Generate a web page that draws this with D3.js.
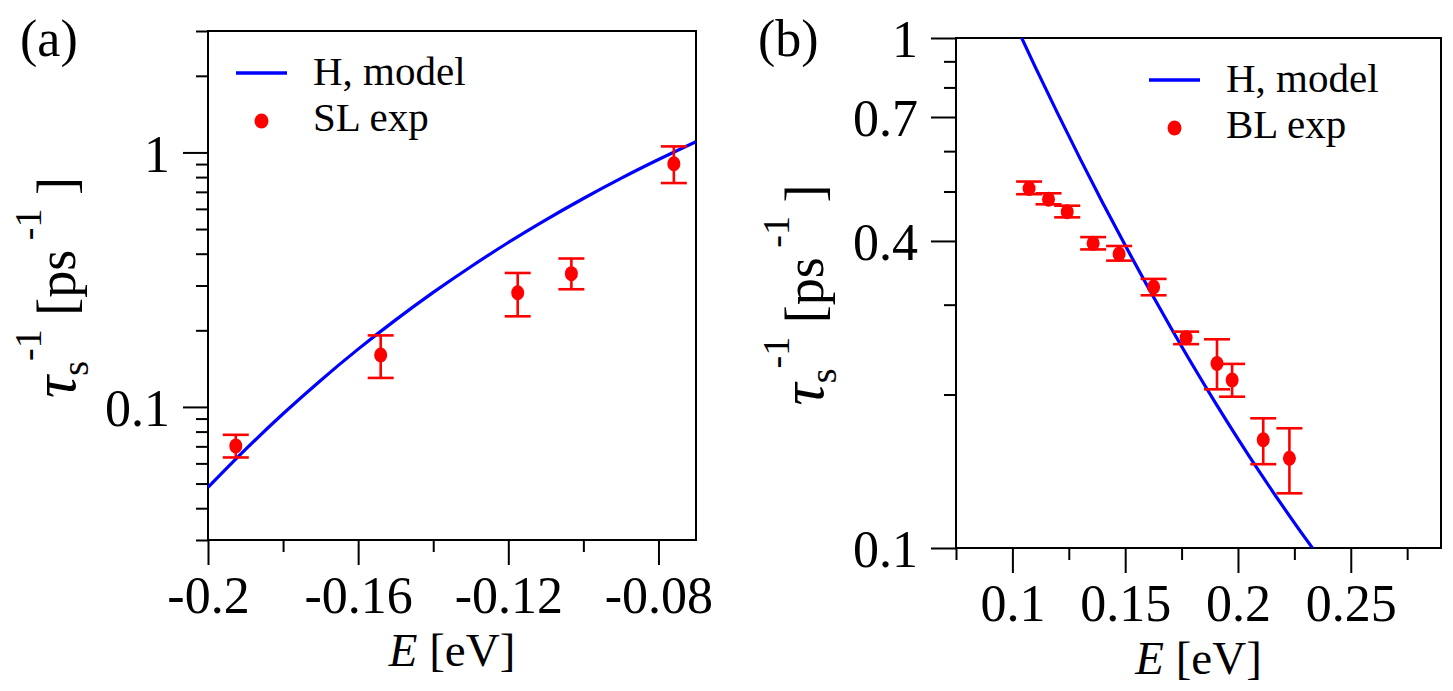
<!DOCTYPE html>
<html>
<head>
<meta charset="utf-8">
<script src="https://cdn.jsdelivr.net/npm/d3@7/dist/d3.min.js"></script>
<style>
  body { margin: 0; background: #fff; }
  svg { display: block; }
  svg text { font-family: 'Liberation Serif', 'DejaVu Serif', serif; }
</style>
</head>
<body>
<svg id="chart" width="1453" height="691"></svg>
<script>
// panel (a): SL
const aModelE = [-0.2, -0.19, -0.18, -0.17, -0.16, -0.15, -0.14, -0.13, -0.12, -0.11, -0.1, -0.09, -0.08, -0.07];
const aModelRate = [0.0483, 0.0681, 0.0940, 0.1271, 0.1687, 0.2198, 0.2818, 0.3556, 0.4426, 0.5433, 0.6592, 0.7907, 0.9376, 1.102];
const aExpE = [-0.1926, -0.154, -0.1175, -0.1032, -0.0759];
const aExpRate = [0.0703, 0.160, 0.281, 0.334, 0.903];
const aExpLow = [0.0633, 0.130, 0.227, 0.290, 0.758];
const aExpHigh = [0.0777, 0.191, 0.336, 0.383, 1.056];
const aXMajor = [-0.2, -0.16, -0.12, -0.08];
const aXMinor = [-0.18, -0.14, -0.1];
const aYMajor = [0.1, 1];
const aYMinor = [0.03, 0.04, 0.05, 0.06, 0.07, 0.08, 0.09, 0.2, 0.3, 0.4, 0.5, 0.6, 0.7, 0.8, 0.9, 2, 3];

// panel (b): BL
const bModelE = [0.1, 0.11, 0.12, 0.13, 0.14, 0.15, 0.16, 0.17, 0.18, 0.19, 0.2, 0.21, 0.22, 0.23, 0.235];
const bModelRate = [1.094, 0.880, 0.7123, 0.580, 0.4754, 0.3921, 0.3252, 0.2715, 0.2279, 0.1926, 0.1637, 0.1400, 0.1205, 0.1043, 0.0973];
const bExpE = [0.1074, 0.116, 0.1243, 0.1358, 0.1473, 0.1626, 0.177, 0.1907, 0.1974, 0.2112, 0.2228];
const bExpRate = [0.507, 0.483, 0.4565, 0.3957, 0.377, 0.325, 0.2585, 0.230, 0.2135, 0.163, 0.150];
const bExpLow = [0.494, 0.472, 0.445, 0.385, 0.366, 0.313, 0.251, 0.2047, 0.198, 0.146, 0.128];
const bExpHigh = [0.523, 0.496, 0.469, 0.407, 0.391, 0.337, 0.2656, 0.2566, 0.2296, 0.1796, 0.1717];
const bXMajor = [0.1, 0.15, 0.2, 0.25];
const bXMinor = [0.075, 0.125, 0.175, 0.225, 0.275];
const bYMajor = [0.1, 0.4, 0.7, 1];
const bYMinor = [0.2, 0.3, 0.5, 0.6, 0.8, 0.9];

const FONT = "'Liberation Serif', 'DejaVu Serif', serif";
const svg = d3.select("#chart");
const fmt = v => String(v).replace("\u2212", "-");

function drawPanel(p) {
  const x = d3.scaleLinear().domain(p.xDomain).range([p.left, p.right]);
  const y = d3.scaleLog().domain(p.yDomain).range([p.bottom, p.top]);
  const g = svg.append("g").style("font-family", FONT);

  g.append("clipPath").attr("id", p.id + "clip")
    .append("rect")
    .attr("x", p.left).attr("y", p.top)
    .attr("width", p.right - p.left).attr("height", p.bottom - p.top);

  // ticks: major ones carry labels, minor ones are short and bare
  const axes = [
    [d3.axisBottom(x).tickValues(p.xMajor).tickSize(25).tickPadding(11).tickFormat(fmt), `translate(0,${p.bottom})`, false],
    [d3.axisBottom(x).tickValues(p.xMinor).tickSize(12).tickFormat(""), `translate(0,${p.bottom})`, false],
    [d3.axisLeft(y).tickValues(p.yMajor).tickSize(25).tickPadding(13).tickFormat(fmt), `translate(${p.left},0)`, true],
    [d3.axisLeft(y).tickValues(p.yMinor).tickSize(12).tickFormat(""), `translate(${p.left},0)`, true]
  ];
  axes.forEach(([ax, tr, isY]) => {
    const a = g.append("g").attr("transform", tr).call(ax.tickSizeOuter(0));
    a.attr("font-family", null).attr("font-size", null);
    a.select(".domain").remove();
    a.selectAll("line").attr("stroke", "#000").attr("stroke-width", 2);
    const t = a.selectAll("text").attr("fill", "#000").style("font-family", FONT).style("font-size", "52px");
    if (isY) t.attr("dy", "0.36em");
  });

  // frame
  g.append("rect")
    .attr("x", p.left).attr("y", p.top)
    .attr("width", p.right - p.left).attr("height", p.bottom - p.top)
    .attr("fill", "none").attr("stroke", "#000").attr("stroke-width", 2);

  // model line
  const line = d3.line().x((d, i) => x(p.modelE[i])).y(d => y(d)).curve(d3.curveMonotoneX);
  g.append("path")
    .attr("clip-path", `url(#${p.id}clip)`)
    .attr("d", line(p.modelRate))
    .attr("fill", "none").attr("stroke", "#0000ff").attr("stroke-width", 3.2);

  // experiment with error bars
  const pts = p.expE.map((e, i) => ({ e, v: p.expRate[i], lo: p.expLow[i], hi: p.expHigh[i] }));
  const eb = g.append("g").attr("stroke", "#ff0000").attr("stroke-width", 2.6);
  pts.forEach(d => {
    const cx = x(d.e);
    eb.append("line").attr("x1", cx).attr("x2", cx).attr("y1", y(d.lo)).attr("y2", y(d.hi));
    eb.append("line").attr("x1", cx - 13).attr("x2", cx + 13).attr("y1", y(d.lo)).attr("y2", y(d.lo));
    eb.append("line").attr("x1", cx - 13).attr("x2", cx + 13).attr("y1", y(d.hi)).attr("y2", y(d.hi));
  });
  g.selectAll(".pt").data(pts).join("ellipse")
    .attr("cx", d => x(d.e)).attr("cy", d => y(d.v))
    .attr("rx", 6.5).attr("ry", 7.5).attr("fill", "#ff0000");

  // legend
  const lg = g.append("g").style("font-size", "41px").attr("fill", "#000");
  lg.append("line")
    .attr("x1", p.legX).attr("x2", p.legX + 51)
    .attr("y1", p.legY).attr("y2", p.legY)
    .attr("stroke", "#0000ff").attr("stroke-width", 3.4);
  lg.append("text").attr("x", p.legX + 77).attr("y", p.legY + 12).text("H, model");
  lg.append("ellipse").attr("cx", p.legX + 25.5).attr("cy", p.legY + 48)
    .attr("rx", 7).attr("ry", 7.5).attr("fill", "#ff0000");
  lg.append("text").attr("x", p.legX + 77).attr("y", p.legY + 58).text(p.expName);

  // panel label
  g.append("text").attr("x", p.tagX).attr("y", 56).style("font-size", "52px").text(p.tag);

  // axis titles
  const xl = g.append("text")
    .attr("x", (p.left + p.right) / 2).attr("y", p.bottom + 126)
    .attr("text-anchor", "middle").style("font-size", "47px");
  xl.append("tspan").attr("font-style", "italic").text("E");
  xl.append("tspan").text(" [eV]");

  const yl = g.append("text")
    .attr("transform", `translate(${p.left - 133},${(p.top + p.bottom) / 2 + 2}) rotate(-90)`)
    .attr("text-anchor", "middle").style("font-size", "54px");
  yl.append("tspan").style("font-size", "62px").attr("font-style", "italic").text("\u03c4");
  yl.append("tspan").style("font-size", "38px").attr("dy", 13).text("s");
  yl.append("tspan").style("font-size", "38px").attr("dy", -47).text("-1");
  yl.append("tspan").attr("dy", 34).text(" [ps");
  yl.append("tspan").style("font-size", "38px").attr("dy", -34).text(" -1");
  yl.append("tspan").attr("dy", 34).text(" ]");
}

drawPanel({
  id: "a", tag: "(a)", tagX: 20, expName: "SL exp",
  left: 208, right: 696, top: 31, bottom: 540,
  xDomain: [-0.2, -0.07], yDomain: [0.03, 3],
  xMajor: aXMajor, xMinor: aXMinor, yMajor: aYMajor, yMinor: aYMinor,
  modelE: aModelE, modelRate: aModelRate,
  expE: aExpE, expRate: aExpRate, expLow: aExpLow, expHigh: aExpHigh,
  legX: 236, legY: 73
});

drawPanel({
  id: "b", tag: "(b)", tagX: 758, expName: "BL exp",
  left: 956, right: 1441, top: 38, bottom: 548,
  xDomain: [0.075, 0.29], yDomain: [0.1, 1],
  xMajor: bXMajor, xMinor: bXMinor, yMajor: bYMajor, yMinor: bYMinor,
  modelE: bModelE, modelRate: bModelRate,
  expE: bExpE, expRate: bExpRate, expLow: bExpLow, expHigh: bExpHigh,
  legX: 1149, legY: 80
});
</script>
</body>
</html>
